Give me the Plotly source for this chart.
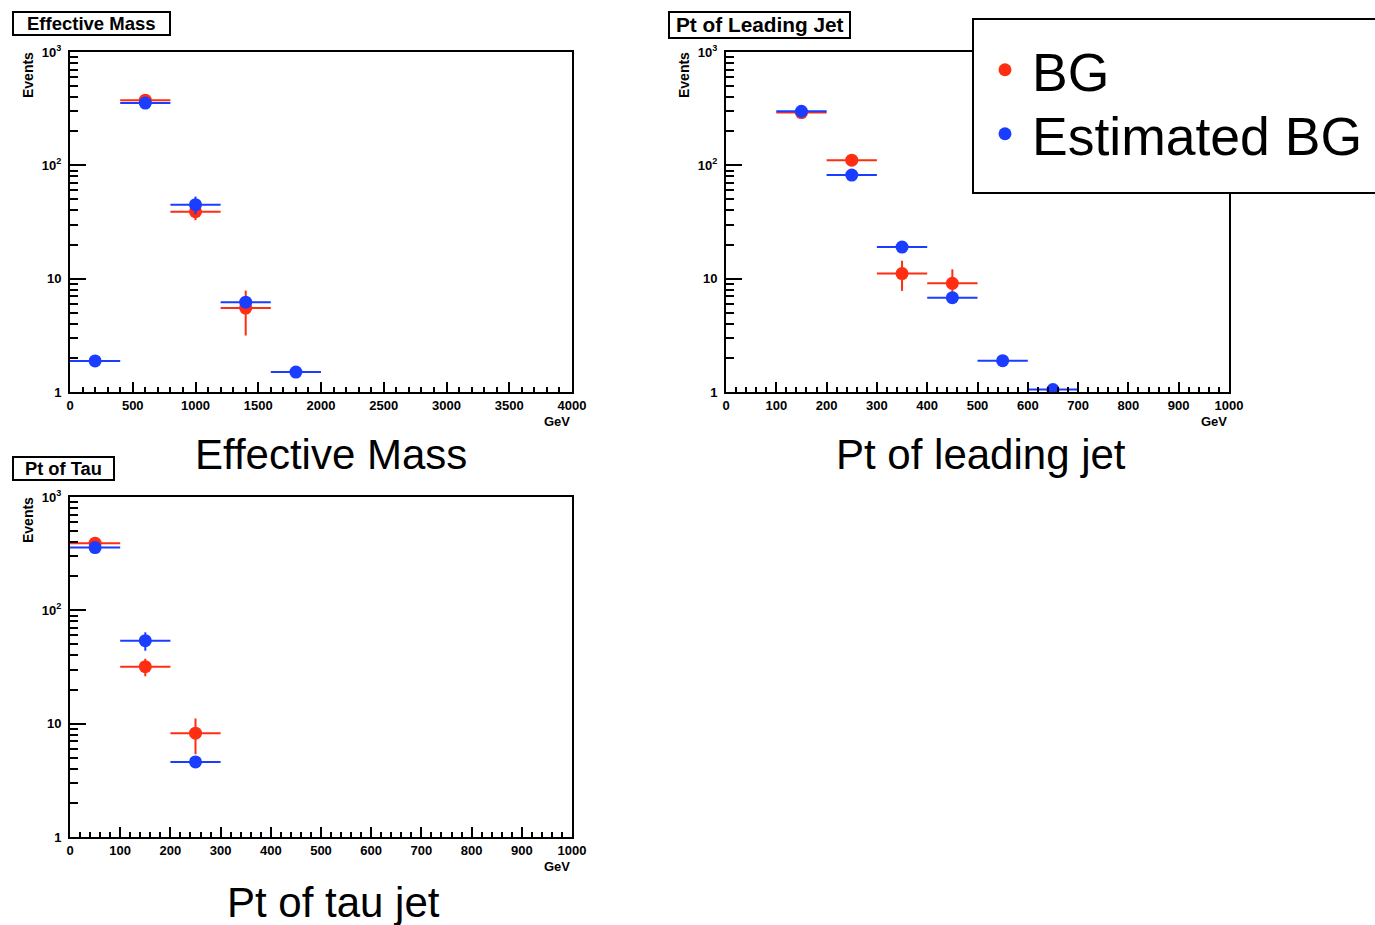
import plotly.graph_objects as go

W, H = 1375, 925

# ---------------- data ----------------
# Effective Mass (GeV), bins of 400
em_bg_x = [600, 1000, 1400]
em_bg_y = [376, 39, 5.5]
em_bg_err = [19.4, 6.2, 2.35]
em_est_x = [200, 600, 1000, 1400, 1800]
em_est_y = [1.88, 354, 45, 6.2, 1.5]
em_est_err = [0.2, 15, 8, 0.5, 0.15]
em_half_width = 200

# Pt of leading jet (GeV), bins of 100
lj_bg_x = [150, 250, 350, 450]
lj_bg_y = [292, 111, 11.1, 9.1]
lj_bg_err = [17.1, 10.5, 3.3, 3.0]
lj_est_x = [150, 250, 350, 450, 550, 650]
lj_est_y = [300, 82, 19, 6.8, 1.89, 1.05]
lj_est_err = [15, 6, 1.2, 0.5, 0.15, 0.08]
lj_half_width = 50

# Pt of tau jet (GeV), bins of 100
tau_bg_x = [50, 150, 250]
tau_bg_y = [391, 31.8, 8.24]
tau_bg_err = [19.8, 5.6, 2.87]
tau_est_x = [50, 150, 250]
tau_est_y = [358, 54, 4.6]
tau_est_err = [15, 10, 0.4]
tau_half_width = 50

panel_titles = ["Effective Mass", "Pt of Leading Jet", "Pt of Tau"]
captions = ["Effective Mass", "Pt of leading jet", "Pt of tau jet"]
series_names = ["BG", "Estimated BG"]
y_tickvals = [1, 10, 100, 1000]
y_ticktext = ["1", "10", "10<sup>2</sup>", "10<sup>3</sup>"]

RED = "#ff2d12"
BLUE = "#1a3dff"
FONT = "Liberation Sans, Arial, sans-serif"


def px(x):
    return x / W


def py(y):
    return 1 - y / H


fig = go.Figure()

panels = [
    dict(name="", xr=[0, 4000], dt=500, mdt=100,
         dom=(70, 572, 52, 392),
         bg=(em_bg_x, em_bg_y, em_bg_err), est=(em_est_x, em_est_y, em_est_err),
         hw=em_half_width),
    dict(name="2", xr=[0, 1000], dt=100, mdt=20,
         dom=(726, 1229, 52, 392),
         bg=(lj_bg_x, lj_bg_y, lj_bg_err), est=(lj_est_x, lj_est_y, lj_est_err),
         hw=lj_half_width),
    dict(name="3", xr=[0, 1000], dt=100, mdt=20,
         dom=(70, 572, 497, 837),
         bg=(tau_bg_x, tau_bg_y, tau_bg_err), est=(tau_est_x, tau_est_y, tau_est_err),
         hw=tau_half_width),
]

minor_y = [m * 10 ** k for k in range(3) for m in range(2, 10)]
tick_font = dict(family=FONT, size=13, color="black", weight="bold")

for i, p in enumerate(panels):
    xa = "x" + p["name"]
    ya = "y" + p["name"]
    for (xs, ys, es), color, nm, grp, lg in [
        (p["bg"], RED, series_names[0], "bg", "legend"),
        (p["est"], BLUE, series_names[1], "est", "legend2"),
    ]:
        fig.add_trace(go.Scatter(
            x=xs, y=ys, mode="markers", name=nm, legendgroup=grp, legend=lg,
            showlegend=(i == 0), xaxis=xa, yaxis=ya,
            marker=dict(color=color, size=13, symbol="circle"),
            error_y=dict(type="data", array=es, visible=True, color=color,
                         thickness=2, width=0),
            error_x=dict(type="constant", value=p["hw"], visible=True, color=color,
                         thickness=2, width=0),
        ))

    x0, x1, yt, yb = p["dom"]
    xkey = "xaxis" + p["name"]
    ykey = "yaxis" + p["name"]
    fig.update_layout(**{
        xkey: dict(
            domain=[px(x0), px(x1)], range=p["xr"], anchor=ya, automargin=False,
            showline=True, mirror=True, linecolor="black", linewidth=2,
            ticks="inside", ticklen=10, tickwidth=1.5, tickcolor="black",
            tick0=0, dtick=p["dt"], showgrid=False, zeroline=False,
            tickfont=tick_font,
            minor=dict(ticks="inside", ticklen=5, tickwidth=1.5, tickcolor="black",
                       dtick=p["mdt"], tick0=0, showgrid=False),
        ),
        ykey: dict(
            domain=[py(yb), py(yt)], type="log", range=[0, 3], anchor=xa,
            automargin=False,
            showline=True, mirror=True, linecolor="black", linewidth=2,
            ticks="inside", ticklen=16, tickwidth=1.5, tickcolor="black",
            tickmode="array", tickvals=y_tickvals, ticktext=y_ticktext,
            showgrid=False, zeroline=False, tickfont=tick_font,
            ticklabelstandoff=4,
            minor=dict(ticks="inside", ticklen=8, tickwidth=1.5, tickcolor="black",
                       tickmode="array", tickvals=minor_y, showgrid=False),
        ),
    })

    # "GeV" unit label and "Events" label
    fig.add_annotation(x=px(x1), y=py(yb + 29), xref="paper", yref="paper",
                       text="GeV", showarrow=False, xanchor="right", yanchor="middle",
                       font=dict(family=FONT, size=13, color="black", weight="bold"))
    fig.add_annotation(x=px(x0 - 42), y=py(yt + 23), xref="paper", yref="paper",
                       text="Events", showarrow=False, textangle=-90,
                       xanchor="center", yanchor="middle",
                       font=dict(family=FONT, size=14, color="black", weight="bold"))

# Title boxes
title_boxes = [(13, 12, 170, 35, 18.5), (669, 12, 850, 38, 20.8), (13, 457, 114, 480, 18.3)]
for (bx0, by0, bx1, by1, fs), t in zip(title_boxes, panel_titles):
    fig.add_shape(type="rect", xref="paper", yref="paper",
                  x0=px(bx0), x1=px(bx1), y0=py(by1), y1=py(by0),
                  line=dict(color="black", width=2), fillcolor="white", layer="above")
    fig.add_annotation(x=px((bx0 + bx1) / 2), y=py((by0 + by1) / 2),
                       xref="paper", yref="paper", text=t, showarrow=False,
                       xanchor="center", yanchor="middle",
                       font=dict(family=FONT, size=fs, color="black", weight="bold"))

# Captions
caption_pos = [(331, 454), (981, 454), (333, 902)]
for (cx, cy), t in zip(caption_pos, captions):
    fig.add_annotation(x=px(cx), y=py(cy), xref="paper", yref="paper", text=t,
                       showarrow=False, xanchor="center", yanchor="middle",
                       font=dict(family=FONT, size=42, color="black"))

# Legend box
fig.add_shape(type="rect", xref="paper", yref="paper",
              x0=px(973), x1=px(1400), y0=py(193), y1=py(19),
              line=dict(color="black", width=2), fillcolor="white", layer="above")

legend_common = dict(xanchor="left", yanchor="middle", bgcolor="rgba(0,0,0,0)",
                     borderwidth=0, itemwidth=44, itemsizing="trace",
                     font=dict(family=FONT, size=53.5, color="black"))

fig.update_layout(
    template="none",
    width=W, height=H, autosize=False,
    margin=dict(l=0, r=0, t=0, b=0, pad=0),
    paper_bgcolor="white", plot_bgcolor="white",
    showlegend=True,
    legend=dict(x=px(978), y=py(70), **legend_common),
    legend2=dict(x=px(978), y=py(134), **legend_common),
)

fig.write_html(
    "out.html",
    config={"displayModeBar": False},
    post_script="document.body.style.margin='0px';document.body.style.overflow='hidden';",
)
